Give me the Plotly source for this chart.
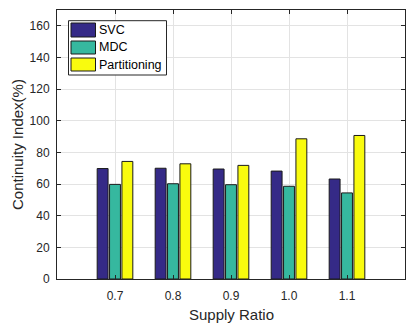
import plotly.graph_objects as go

supply_ratio = [0.7, 0.8, 0.9, 1.0, 1.1]
tick_labels = ["0.7", "0.8", "0.9", "1.0", "1.1"]
svc = [69.8, 70.0, 69.5, 68.2, 63.2]
mdc = [59.8, 60.2, 59.6, 58.6, 54.4]
partitioning = [74.3, 72.8, 71.8, 88.6, 90.7]
series_names = ["SVC", "MDC", "Partitioning"]
colors = ["#352A87", "#36B89F", "#F9FB0E"]

W, H = 406, 325
L, R, T, B = 57, 1, 10, 46
pw, ph = W - L - R, H - T - B
FONT = "Liberation Sans, Arial, Helvetica"

fig = go.Figure()
for name, vals, col in zip(series_names, [svc, mdc, partitioning], colors):
    fig.add_trace(go.Bar(x=supply_ratio, y=vals, name=name, marker_color=col,
                         marker_line_color="#1a1a1a", marker_line_width=1,
                         showlegend=False))

axis_common = dict(showline=True, linecolor="#262626", linewidth=1, mirror="ticks",
                   ticks="inside", ticklen=4, tickcolor="#262626", automargin=False,
                   showgrid=True, gridcolor="#E3E3E3", gridwidth=1, zeroline=False,
                   tickfont=dict(family=FONT, size=12, color="#262626"))

fig.update_layout(
    width=W, height=H,
    margin=dict(l=L, r=R, t=T, b=B),
    paper_bgcolor="white", plot_bgcolor="white",
    barmode="group", bargap=0.36, bargroupgap=0.12,
    xaxis=dict(range=[0.6, 1.2], tickvals=supply_ratio, ticktext=tick_labels,
               ticklabelstandoff=6, **axis_common),
    yaxis=dict(range=[0, 170], tickvals=list(range(0, 161, 20)),
               ticklabelstandoff=4, **axis_common),
)

def px(x):
    return (x - L) / pw

def py(y):
    return (H - B - y) / ph

shapes = [dict(type="rect", xref="paper", yref="paper", x0=px(68.5), x1=px(166.5),
               y0=py(75), y1=py(20.7), line=dict(color="#262626", width=1),
               fillcolor="white", layer="above")]
sw = [(23, 37), (41, 54), (58, 71)]
annotations = [
    dict(xref="paper", yref="paper", x=px(231), y=py(314), text="Supply Ratio",
         showarrow=False, xanchor="center", yanchor="middle",
         font=dict(family=FONT, size=15, color="#262626")),
    dict(xref="paper", yref="paper", x=px(17.5), y=py(144.5), text="Continuity Index(%)",
         showarrow=False, xanchor="center", yanchor="middle", textangle=-90,
         font=dict(family=FONT, size=15, color="#262626")),
]
for (y0, y1), col, name in zip(sw, colors, series_names):
    shapes.append(dict(type="rect", xref="paper", yref="paper", x0=px(71), x1=px(95.5),
                       y0=py(y1), y1=py(y0), line=dict(color="#1a1a1a", width=1),
                       fillcolor=col, layer="above"))
    annotations.append(dict(xref="paper", yref="paper", x=px(97), y=py((y0 + y1) / 2),
                            text=name, showarrow=False, xanchor="left", yanchor="middle",
                            font=dict(family=FONT, size=12.5, color="black")))
fig.update_layout(shapes=shapes, annotations=annotations)

fig.write_html("out.html", config={"displayModeBar": False},
               post_script="document.body.style.margin='0px';")
